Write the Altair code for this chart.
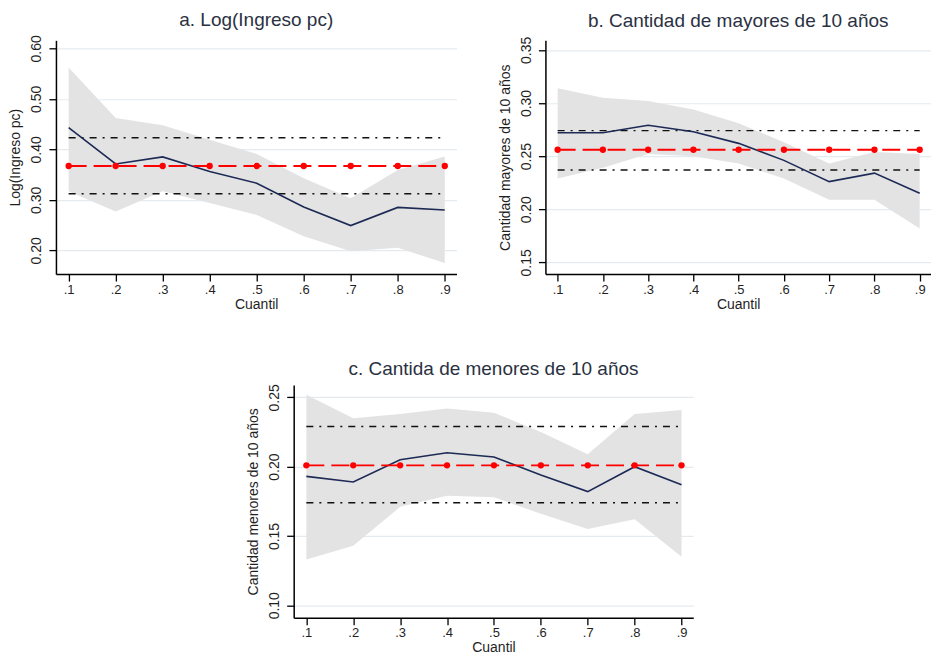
import altair as alt
import pandas as pd

quantiles = [0.1, 0.2, 0.3, 0.4, 0.5, 0.6, 0.7, 0.8, 0.9]

# Panel a: Log(Ingreso pc)
a_est = [0.443, 0.371, 0.385, 0.356, 0.333, 0.286, 0.249, 0.285, 0.280]
a_hi = [0.562, 0.462, 0.448, 0.419, 0.391, 0.343, 0.303, 0.359, 0.386]
a_lo = [0.317, 0.277, 0.317, 0.294, 0.270, 0.228, 0.198, 0.205, 0.175]
a_ols = [0.367, 0.312, 0.423]  # estimate, lower, upper

# Panel b: Cantidad de mayores de 10 años
b_est = [0.272, 0.272, 0.279, 0.273, 0.262, 0.246, 0.226, 0.234, 0.215]
b_hi = [0.314, 0.305, 0.302, 0.294, 0.281, 0.263, 0.243, 0.254, 0.252]
b_lo = [0.229, 0.239, 0.252, 0.250, 0.243, 0.229, 0.209, 0.209, 0.182]
b_ols = [0.256, 0.237, 0.274]

# Panel c: Cantida de menores de 10 años
c_est = [0.193, 0.189, 0.205, 0.210, 0.207, 0.194, 0.182, 0.200, 0.187]
c_hi = [0.252, 0.235, 0.238, 0.242, 0.239, 0.225, 0.209, 0.238, 0.241]
c_lo = [0.133, 0.143, 0.171, 0.179, 0.178, 0.166, 0.155, 0.162, 0.135]
c_ols = [0.201, 0.174, 0.229]

FONT = "Liberation Sans"
TXT = "#1f1f1f"


def panel(title, ytitle, est, lo, hi, ols, ydomain, yticks, width, height):
    df = pd.DataFrame({
        "q": quantiles,
        "est": est,
        "lo": lo,
        "hi": hi,
        "ols": [ols[0]] * len(quantiles),
        "ols_lo": [ols[1]] * len(quantiles),
        "ols_hi": [ols[2]] * len(quantiles),
    })
    xscale = alt.Scale(domain=[0.073, 0.925], nice=False, zero=False)
    yscale = alt.Scale(domain=ydomain, nice=False, zero=False)
    xaxis = alt.Axis(
        values=quantiles,
        labelExpr="replace(format(datum.value, '.1f'), '0.', '.')",
        title="Cuantil",
        grid=False,
        tickSize=7,
        labelPadding=2,
        labelFontSize=13,
        titlePadding=1,
        titleFontSize=14,
    )
    yaxis = alt.Axis(
        values=yticks,
        format=".2f",
        labelAngle=-90,
        grid=True,
        gridColor="#e3ebf0",
        gridWidth=1.2,
        title=ytitle,
        tickSize=7,
        labelPadding=5,
        labelFontSize=14,
        titlePadding=7,
        titleFontSize=14,
    )
    base = alt.Chart(df)
    band = base.mark_area(color="#e3e3e3", opacity=1).encode(
        x=alt.X("q:Q", scale=xscale, axis=xaxis),
        y=alt.Y("lo:Q", scale=yscale, axis=yaxis),
        y2="hi:Q",
    )
    ci_hi = base.mark_line(color="#111111", strokeDash=[7, 6, 2, 6], strokeWidth=1.4).encode(
        x="q:Q", y="ols_hi:Q"
    )
    ci_lo = base.mark_line(color="#111111", strokeDash=[7, 6, 2, 6], strokeWidth=1.4).encode(
        x="q:Q", y="ols_lo:Q"
    )
    est_line = base.mark_line(color="#1c2a55", strokeWidth=1.6).encode(
        x="q:Q", y="est:Q"
    )
    ols_line = base.mark_line(color="#ff0000", strokeDash=[18, 7], strokeWidth=1.8).encode(
        x="q:Q", y="ols:Q"
    )
    ols_pts = base.mark_point(color="#ff0000", filled=True, size=40, opacity=1).encode(
        x="q:Q", y="ols:Q"
    )
    return alt.layer(band, ci_hi, ci_lo, est_line, ols_line, ols_pts).properties(
        width=width,
        height=height,
        title=alt.TitleParams(title, fontSize=19, font=FONT, fontWeight="normal",
                              color="#2a3142", offset=5),
    )


pa = panel("a. Log(Ingreso pc)", "Log(Ingreso pc)", a_est, a_lo, a_hi, a_ols,
           [0.153, 0.616], [0.2, 0.3, 0.4, 0.5, 0.6], 401, 234)
pb = panel("b. Cantidad de mayores de 10 años", "Cantidad mayores de 10 años",
           b_est, b_lo, b_hi, b_ols, [0.139, 0.359], [0.15, 0.2, 0.25, 0.3, 0.35], 386, 234)
pc = panel("c. Cantida de menores de 10 años", "Cantidad menores de 10 años",
           c_est, c_lo, c_hi, c_ols, [0.091, 0.259], [0.1, 0.15, 0.2, 0.25], 400, 233)

top = alt.hconcat(pa, pb, spacing=41)
chart = alt.vconcat(top, pc, spacing=48, center=True).properties(
    padding={"left": 1, "top": 2, "right": 0, "bottom": 0}
).configure_view(stroke=None).configure_axis(
    labelFont=FONT,
    titleFont=FONT,
    labelColor=TXT,
    titleColor=TXT,
    titleFontWeight="normal",
    domainColor="#000000",
    domainWidth=1.5,
    tickColor="#000000",
    tickWidth=1.3,
)

chart.save("out.html", embed_options={"renderer": "svg", "actions": False})
